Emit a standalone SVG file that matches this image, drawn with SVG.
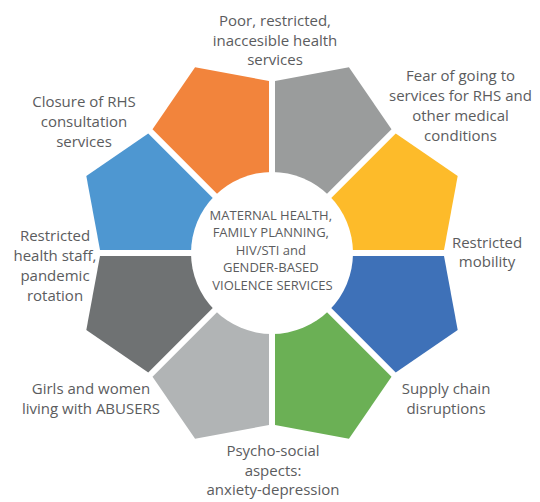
<svg xmlns="http://www.w3.org/2000/svg" width="540" height="502" viewBox="0 0 540 502">
  <style>
    .lbl { font-family: "Open Sans", "Noto Sans", "Liberation Sans", sans-serif; font-size: 15px; fill: #5b5c5e; text-anchor: middle; }
    .ctr { font-family: "Open Sans", "Noto Sans", "Liberation Sans", sans-serif; font-size: 13px; fill: #5b5c5e; text-anchor: middle; }
  </style>
  <rect width="540" height="502" fill="#ffffff"/>
  <g id="segments">
    <g id="seg-orange"><polygon points="269,245.76 152.5,129.26 195.08,67.3 269,81" fill="#f2843c"/></g>
    <g id="seg-gray"><polygon points="275,245.76 275,81 348.92,67.3 391.5,129.26" fill="#9a9c9c"/></g>
    <g id="seg-yellow"><polygon points="279.24,250 395.74,133.5 457.7,176.08 444,250" fill="#fdbb2a"/></g>
    <g id="seg-blue"><polygon points="279.24,256 444,256 457.7,329.92 395.74,372.5" fill="#3e71b8"/></g>
    <g id="seg-green"><polygon points="275,260.24 391.5,376.74 348.92,438.7 275,425" fill="#6bb055"/></g>
    <g id="seg-lightgray"><polygon points="269,260.24 269,425 195.08,438.7 152.5,376.74" fill="#b1b4b5"/></g>
    <g id="seg-darkgray"><polygon points="264.76,256 148.26,372.5 86.3,329.92 100,256" fill="#6f7273"/></g>
    <g id="seg-lightblue"><polygon points="264.76,250 100,250 86.3,176.08 148.26,133.5" fill="#4e97d1"/></g>
  </g>
  <g id="center">
    <circle cx="272" cy="253" r="81" fill="#ffffff"/>
    <text class="ctr">
      <tspan x="272.5" y="219.5">MATERNAL HEALTH,</tspan>
      <tspan x="272.5" y="237">FAMILY PLANNING,</tspan>
      <tspan x="272.5" y="254.5">HIV/STI and</tspan>
      <tspan x="272.5" y="272">GENDER-BASED</tspan>
      <tspan x="272.5" y="290">VIOLENCE SERVICES</tspan>
    </text>
  </g>
  <g id="label-poor">
    <text class="lbl"><tspan x="275" y="26">Poor, restricted,</tspan><tspan x="275" y="45.5">inaccesible health</tspan><tspan x="275" y="65">services</tspan></text>
  </g>
  <g id="label-fear">
    <text class="lbl"><tspan x="460.5" y="81">Fear of going to</tspan><tspan x="460.5" y="101">services for RHS and</tspan><tspan x="460.5" y="121">other medical</tspan><tspan x="460.5" y="141">conditions</tspan></text>
  </g>
  <g id="label-mobility">
    <text class="lbl"><tspan x="487" y="247.5">Restricted</tspan><tspan x="487" y="267">mobility</tspan></text>
  </g>
  <g id="label-supply">
    <text class="lbl"><tspan x="446" y="394">Supply chain</tspan><tspan x="446" y="414">disruptions</tspan></text>
  </g>
  <g id="label-psycho">
    <text class="lbl"><tspan x="273" y="456">Psycho-social</tspan><tspan x="273" y="476">aspects:</tspan><tspan x="273" y="495">anxiety-depression</tspan></text>
  </g>
  <g id="label-girls">
    <text class="lbl"><tspan x="91" y="394">Girls and women</tspan><tspan x="91" y="414">living with ABUSERS</tspan></text>
  </g>
  <g id="label-staff">
    <text class="lbl"><tspan x="55" y="241">Restricted</tspan><tspan x="55" y="261">health staff,</tspan><tspan x="55" y="281">pandemic</tspan><tspan x="55" y="301">rotation</tspan></text>
  </g>
  <g id="label-closure">
    <text class="lbl"><tspan x="84" y="107">Closure of RHS</tspan><tspan x="84" y="127">consultation</tspan><tspan x="84" y="147">services</tspan></text>
  </g>
</svg>
